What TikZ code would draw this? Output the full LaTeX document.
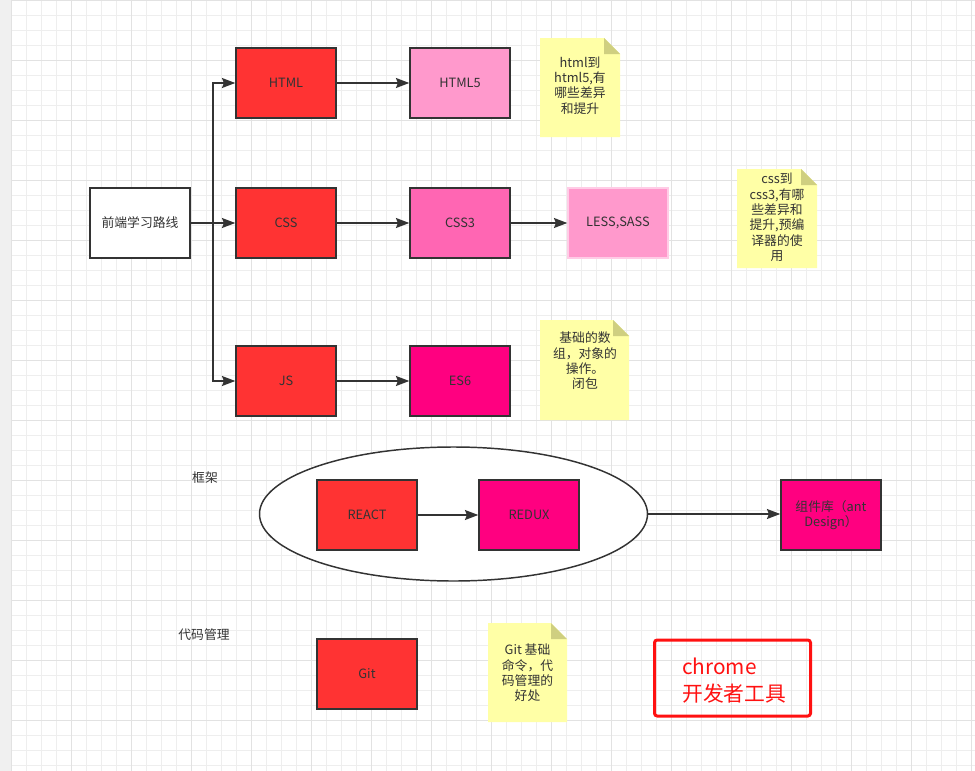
\documentclass[tikz,border=0pt]{standalone}
\usepackage{fontspec}
\setmainfont{Noto Sans CJK SC}
\usetikzlibrary{arrows.meta,shapes.geometric}
\definecolor{dk}{HTML}{333333}
\definecolor{redbox}{HTML}{FF3333}
\definecolor{pinkA}{HTML}{FF99CC}
\definecolor{pinkB}{HTML}{FF66B3}
\definecolor{pinkC}{HTML}{FF0080}
\definecolor{lessborder}{HTML}{FFCCE6}
\definecolor{notefill}{HTML}{FFFFA6}
\definecolor{foldfill}{HTML}{CFCF80}
\definecolor{gridminor}{HTML}{EEEEEE}
\definecolor{gridmajor}{HTML}{E2E2E2}
\definecolor{strip}{HTML}{F0F0F0}
\definecolor{chromered}{HTML}{FF1111}
\newcommand\myfont{\fontsize{9.6}{11.5}\selectfont}
\begin{document}
\begin{tikzpicture}[x=0.75pt,y=-0.75pt,
  box/.style={draw=dk, line width=1.1pt, minimum width=75pt, minimum height=52.5pt, inner sep=1pt, font=\myfont, text=dk, align=center},
  conn/.style={draw=dk, line width=1.1pt, -{Stealth[length=10pt,width=7.5pt,inset=1.5pt]}},
  lbl/.style={font=\myfont, text=dk, align=center, inner sep=0},
  notebox/.style={inner sep=0, path picture={
    \fill[notefill] (path picture bounding box.north west) -- ([xshift=-12pt]path picture bounding box.north east) -- ([yshift=-12pt]path picture bounding box.north east) -- (path picture bounding box.south east) -- (path picture bounding box.south west) -- cycle;
    \fill[foldfill] ([xshift=-12pt]path picture bounding box.north east) -- ([xshift=-12pt,yshift=-12pt]path picture bounding box.north east) -- ([yshift=-12pt]path picture bounding box.north east) -- cycle;}},
  minor/.style={draw=gridminor, line width=0.75pt},
  major/.style={draw=gridmajor, line width=0.75pt}
]
\useasboundingbox (0,0) rectangle (975,771);
\fill[white] (0,0) rectangle (975,771);
% grid
\foreach \k in {0,...,64} { \draw[minor] ({11.7+15*\k},0) -- ({11.7+15*\k},771); }
\foreach \k in {0,...,51} { \draw[minor] (11.7,{15*\k}) -- (975,{15*\k}); }
\foreach \k in {0,...,16} { \draw[major] ({11.7+60*\k},0) -- ({11.7+60*\k},771); }
\foreach \k in {0,...,12} { \draw[major] (11.7,{60*\k}) -- (975,{60*\k}); }
\fill[strip] (0,0) rectangle (11,771);

% main nodes
\node[box, fill=white] (start) at (140,223) {前端学习路线};
\node[box, fill=redbox] (html) at (286,83) {HTML};
\node[box, fill=pinkA] (html5) at (460,83) {HTML5};
\node[box, fill=redbox] (css) at (286,223) {CSS};
\node[box, fill=pinkB] (css3) at (460,223) {CSS3};
\node[box, fill=pinkA, draw=lessborder] (less) at (618,223) {LESS,SASS};
\node[box, fill=redbox] (js) at (286,381) {JS};
\node[box, fill=pinkC] (es6) at (460,381) {ES6};

\coordinate (trunk) at (213,223);
\draw[conn] (start.east) -- (trunk) |- (html.west);
\draw[conn] (start.east) -- (css.west);
\draw[conn] (trunk) |- (js.west);
\draw[conn] (html) -- (html5);
\draw[conn] (css) -- (css3);
\draw[conn] (css3) -- (less);
\draw[conn] (js) -- (es6);

% notes
\node[notebox, minimum width=60pt, minimum height=74.25pt] (noteA) at (580,87.5) {};
\node[lbl] (noteAt) at (580,85.5) {html到\\html5,有\\哪些差异\\和提升};
\node[notebox, minimum width=60pt, minimum height=74.25pt] (noteB) at (777,218.5) {};
\node[lbl] (noteBt) at (777,217.5) {css到\\css3,有哪\\些差异和\\提升,预编\\译器的使\\用};
\node[notebox, minimum width=66.75pt, minimum height=75pt] (noteC) at (584.5,370) {};
\node[lbl] (noteCt) at (585,361) {基础的数\\组，对象的\\操作。\\闭包};
\node[notebox, minimum width=59.25pt, minimum height=74.25pt] (noteD) at (527.5,672.5) {};
\node[lbl] (noteDt) at (527.5,673) {Git 基础\\命令，代\\码管理的\\好处};

% framework
\node[lbl] (fw) at (205,478) {框架};
\node[ellipse, draw=dk, line width=1.1pt, fill=white, minimum width=291pt, minimum height=100.5pt, inner sep=0] (ell) at (453.5,514) {};
\node[box, fill=redbox] (react) at (367,515) {REACT};
\node[box, fill=pinkC] (redux) at (529,515) {REDUX};
\node[box, fill=pinkC] (lib) at (831,515) {组件库（ant\\Design）};
\draw[conn] (react) -- (redux);
\draw[conn] (ell.east) -- (ell.east -| lib.west);

% code management
\node[lbl] (cm) at (204,635) {代码管理};
\node[box, fill=redbox] (git) at (367,674) {Git};

% chrome box
\node[draw=chromered, line width=2.25pt, rounded corners=2pt, minimum width=117pt, minimum height=57pt] (chromebox) at (732.5,678) {};
\node[anchor=west, align=left, text=chromered, font=\fontsize{15.6}{20.25}\selectfont, inner sep=0] (chrometxt) at (682,681) {chrome\\开发者工具};
\end{tikzpicture}
\end{document}
